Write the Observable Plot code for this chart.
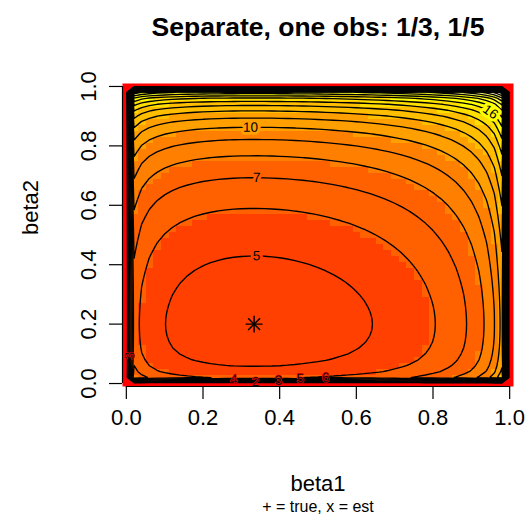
<!DOCTYPE html>
<html><head><meta charset="utf-8">
<script src="https://cdn.jsdelivr.net/npm/d3@7"></script>
<script src="https://cdn.jsdelivr.net/npm/@observablehq/plot@0.6"></script>
<style>
body{margin:0;background:#fff;font-family:"Liberation Sans",Arial,Helvetica,sans-serif;}
#wrap{width:527px;height:530px;overflow:hidden;}
#title{height:55px;box-sizing:border-box;padding-left:109px;text-align:center;font-weight:bold;font-size:26.5px;line-height:55px;color:#000;white-space:nowrap;}
#chart{height:442px;}
#caption{box-sizing:border-box;padding-left:109px;text-align:center;font-size:16px;line-height:20px;color:#000;white-space:nowrap;}
</style></head>
<body><div id="wrap">
<div id="title">Separate, one obs: 1/3, 1/5</div>
<div id="chart"></div>
<div id="caption">+ = true, x = est</div>
</div>
<script>
// ---- data: one binomial observation per parameter (successes / trials) ----
const successes = [1, 1];
const trials = [3, 5];
const trueBeta = [1 / 3, 1 / 5];
const estBeta = successes.map((s, i) => s / trials[i]);

// grid on which the surface was evaluated (51 points, step 0.02)
const gridStep = 0.02;
// contour levels and colour palette (R heat.colors(12))
const contourLevels = [1,2,3,4,5,6,7,8,9,10,11,12,13,14,15,16,17,18,19,20,21,22,23];
const heatColors = ["#FF0000","#FF2000","#FF4000","#FF6000","#FF8000","#FF9F00","#FFBF00","#FFDF00","#FFFF00","#FFFF2A","#FFFF80","#FFFFD5"];
// axis ticks
const xTicks = [0, 0.2, 0.4, 0.6, 0.8, 1.0];
const yTicks = [0, 0.2, 0.4, 0.6, 0.8, 1.0];
// contour labels: level, which coordinate is solved, fixed coordinate, search range
const labelLevel = [10, 7, 5, 16, 4, 2, 3, 5, 6, 3];
const labelSolve = ["y", "y", "y", "y", "y", "y", "y", "y", "y", "x"];
const labelFixed = [0.324, 0.34, 0.34, 0.95, 0.28, 0.337, 0.397, 0.454, 0.52, 0.094];
const labelLo = [0.2, 0.2, 0.2, 0.5, 0, 0, 0, 0, 0, 0];
const labelHi = [0.98, 0.98, 0.98, 0.98, 0.02, 0.02, 0.02, 0.02, 0.02, 0.02];

// ---- negative log-likelihood surface (boundary cells are 0, as in the original) ----
const n = Math.round(1 / gridStep) + 1;
const nll = (b1, b2) => {
  const b = [b1, b2];
  if (b.some(v => v <= 0 || v >= 1)) return 0;
  return -d3.sum(b, (p, i) => successes[i] * Math.log(p) + (trials[i] - successes[i]) * Math.log(1 - p));
};
const values = [];
for (let j = 0; j < n; ++j) for (let k = 0; k < n; ++k) values.push(nll(k * gridStep, j * gridStep));
const zmin = d3.min(values), zmax = d3.max(values);
const breaks = d3.range(1, heatColors.length).map(k => zmin + k * (zmax - zmin) / heatColors.length);

function interp(b1, b2) {
  const fx = Math.max(0, Math.min(n - 1, b1 / gridStep)), fy = Math.max(0, Math.min(n - 1, b2 / gridStep));
  const k = Math.min(Math.floor(fx), n - 2), j = Math.min(Math.floor(fy), n - 2);
  const tx = fx - k, ty = fy - j;
  const v = (jj, kk) => values[jj * n + kk];
  return (1 - tx) * (1 - ty) * v(j, k) + tx * (1 - ty) * v(j, k + 1) + (1 - tx) * ty * v(j + 1, k) + tx * ty * v(j + 1, k + 1);
}

// ---- layout ----
const W = 527, H = 442, mL = 122, mR = 14, mT = 28, mB = 111;
const xDomain = [-gridStep / 2, 1 + gridStep / 2];
const yDomain = [-gridStep / 2, 1 + gridStep / 2];
const kx = (W - mL - mR) / (xDomain[1] - xDomain[0]);
const ky = (H - mT - mB) / (yDomain[1] - yDomain[0]);

const labels = labelLevel.map((L, i) => {
  let lo = labelLo[i], hi = labelHi[i];
  const f = t => labelSolve[i] === "y" ? interp(labelFixed[i], t) : interp(t, labelFixed[i]);
  const sLo = Math.sign(f(lo) - L);
  for (let it = 0; it < 60; ++it) {
    const m = (lo + hi) / 2;
    if (Math.sign(f(m) - L) === sLo) lo = m; else hi = m;
  }
  const t = (lo + hi) / 2;
  const b1 = labelSolve[i] === "y" ? labelFixed[i] : t;
  const b2 = labelSolve[i] === "y" ? t : labelFixed[i];
  const e = 0.002;
  const gx = (interp(b1 + e, b2) - interp(b1 - e, b2)) / (2 * e) / kx;
  const gy = -(interp(b1, b2 + e) - interp(b1, b2 - e)) / (2 * e) / ky;
  let ang = Math.atan2(gx, -gy) * 180 / Math.PI;
  if (ang > 90) ang -= 180;
  if (ang <= -90) ang += 180;
  return {level: L, b1, b2, angle: ang, edge: labelHi[i] <= gridStep};
});

const fmt = d3.format(".1f");
const chart = Plot.plot({
  width: W, height: H, marginLeft: mL, marginRight: mR, marginTop: mT, marginBottom: mB,
  x: {domain: xDomain},
  y: {domain: yDomain},
  color: {type: "threshold", domain: breaks, range: heatColors},
  style: {fontFamily: "'Liberation Sans', Arial, Helvetica, sans-serif", fontSize: "22px", color: "#000", background: "#fff"},
  marks: [
    Plot.raster(values, {width: n, height: n, x1: xDomain[0], x2: xDomain[1], y1: yDomain[0], y2: yDomain[1], fill: d => d, imageRendering: "pixelated"}),
    Plot.contour(values, {width: n, height: n, x1: xDomain[0], x2: xDomain[1], y1: yDomain[0], y2: yDomain[1], thresholds: contourLevels, fill: "none", stroke: "#000", strokeWidth: 1.35}),
    Plot.text(labels.filter(d => !d.edge), {x: "b1", y: "b2", text: d => String(d.level), rotate: "angle", fill: "#000", stroke: d => d.level, strokeWidth: 6, paintOrder: "stroke", fontSize: 13.5}),
    Plot.text(labels.filter(d => d.edge), {x: "b1", y: "b2", text: d => String(d.level), rotate: "angle", fill: "#111", stroke: "#FF0000", strokeWidth: 1.2, paintOrder: "stroke", fontSize: 13.5}),
    Plot.dot([trueBeta], {x: d => d[0], y: d => d[1], symbol: "plus", r: 5.5, stroke: "#000", strokeWidth: 1.4}),
    Plot.dot([estBeta], {x: d => d[0], y: d => d[1], symbol: "times", r: 5.5, stroke: "#000", strokeWidth: 1.4}),
    Plot.ruleY([yDomain[0]], {x1: xTicks[0], x2: xTicks[xTicks.length - 1], stroke: "#000", strokeWidth: 1.2}),
    Plot.ruleX([xDomain[0]], {y1: yTicks[0], y2: yTicks[yTicks.length - 1], stroke: "#000", strokeWidth: 1.2}),
    Plot.axisX({ticks: xTicks, tickSize: 13, tickPadding: 10, tickFormat: fmt, label: null, fontSize: 22, strokeWidth: 1.2}),
    Plot.axisY({ticks: yTicks, tickSize: 13, tickFormat: () => "", label: null, strokeWidth: 1.2}),
    Plot.text(yTicks, {x: () => xDomain[0], y: d => d, text: d => fmt(d), rotate: -90, dx: -34, fontSize: 22, fill: "#000"}),
    Plot.text(["beta1"], {frameAnchor: "bottom", dy: 104, fontSize: 22, fill: "#000"}),
    Plot.text(["beta2"], {frameAnchor: "left", dx: -92, rotate: -90, fontSize: 22, fill: "#000"})
  ]
});
document.getElementById("chart").appendChild(chart);
</script>
</body></html>
